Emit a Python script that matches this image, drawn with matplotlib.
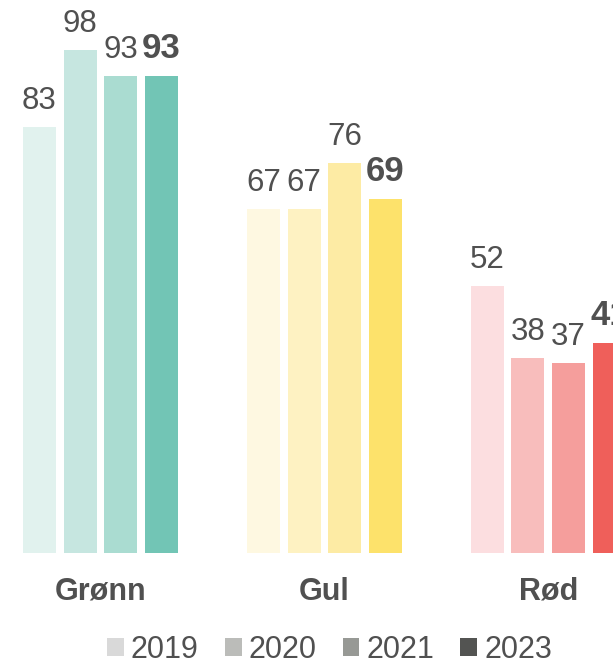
import numpy as np
import matplotlib
matplotlib.use("Agg")
import matplotlib.pyplot as plt
from matplotlib.patches import Patch

plt.rcParams['font.family'] = ['Liberation Sans', 'DejaVu Sans']

categories = ["Grønn", "Gul", "Rød"]
years = ["2019", "2020", "2021", "2023"]
values = {
    "2019": [83, 67, 52],
    "2020": [98, 67, 38],
    "2021": [93, 76, 37],
    "2023": [93, 69, 41],
}

bar_colors = [
    ["#E1F2EE", "#C6E6E0", "#AADCD1", "#72C5B5"],  # Grønn
    ["#FEF8E1", "#FEF2C2", "#FDEBA4", "#FDE26B"],  # Gul
    ["#FCDEE0", "#F8BDBC", "#F59E9C", "#EF5F5A"],  # Rød
]
legend_colors = ["#D9D9D9", "#BBBCB9", "#979995", "#535452"]
text_color = "#505050"

fig = plt.figure(figsize=(6.13, 6.65), dpi=100)
ax = fig.add_axes([0, 0.1684, 1, 0.8316])

group_gap = 5.5
width = 0.81
for gi, cat in enumerate(categories):
    for yi, yr in enumerate(years):
        x = gi * group_gap + yi
        v = values[yr][gi]
        ax.bar(x, v, width=width, color=bar_colors[gi][yi], linewidth=0)
        bold = yr == "2023"
        ax.annotate(str(v), (x, v), xytext=(0, 13), textcoords="offset points",
                    ha="center", va="baseline", color=text_color,
                    fontsize=25 if bold else 22.5,
                    fontweight="bold" if bold else "normal",
                    annotation_clip=False)

ax.set_xlim(-0.97, 14.09)
ax.set_ylim(0, 107.8)
ax.axis("off")

# category labels under each group
for gi, cat in enumerate(categories):
    xc = gi * group_gap + 1.5
    ax.annotate(cat, (xc, 0), xytext=(0, -28), textcoords="offset points",
                ha="center", va="center", fontsize=22, fontweight="bold",
                color=text_color, annotation_clip=False)

handles = [Patch(facecolor=c, edgecolor="none") for c in legend_colors]
leg = fig.legend(handles, years, loc="center", ncol=4,
                 bbox_to_anchor=(329.5 / 613, 15 / 665), frameon=False,
                 fontsize=22, handlelength=0.55, handleheight=0.55,
                 handletextpad=0.23, columnspacing=0.85, borderpad=0)
for t in leg.get_texts():
    t.set_color(text_color)

fig.savefig("out.png", dpi=100)
